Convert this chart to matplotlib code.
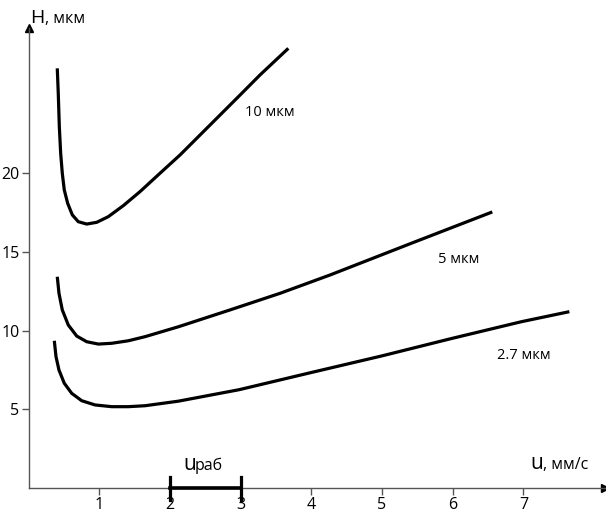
import matplotlib.pyplot as plt

plt.rcParams["font.family"] = ["Open Sans", "DejaVu Sans"]

# values
u_10 = [0.407, 0.421, 0.436, 0.455, 0.478, 0.506, 0.554, 0.620, 0.704, 0.823, 0.965, 1.129,
        1.341, 1.577, 1.860, 2.143, 2.426, 2.709, 2.992, 3.275, 3.675]
h_10 = [26.68, 25.09, 22.97, 21.28, 20.01, 18.95, 18.10, 17.36, 16.93, 16.78, 16.89, 17.25,
        17.95, 18.84, 20.01, 21.17, 22.44, 23.71, 24.98, 26.26, 27.95]

u_5 = [0.407, 0.431, 0.478, 0.563, 0.682, 0.823, 0.987, 1.177, 1.412, 1.648, 2.12, 2.85,
       3.56, 4.27, 5.41, 6.56]
h_5 = [13.43, 12.38, 11.32, 10.36, 9.66, 9.30, 9.15, 9.20, 9.36, 9.62, 10.25, 11.32,
       12.38, 13.55, 15.55, 17.55]

u_27 = [0.365, 0.389, 0.431, 0.506, 0.611, 0.752, 0.941, 1.177, 1.412, 1.648, 2.12, 2.98,
        3.96, 5.0, 5.98, 6.97, 7.65]
h_27 = [9.36, 8.35, 7.50, 6.66, 6.02, 5.55, 5.28, 5.17, 5.17, 5.23, 5.52, 6.25,
        7.3, 8.40, 9.5, 10.57, 11.21]

curves = [
    (u_10, h_10, "10 мкм", (3.06, 23.9)),
    (u_5, h_5, "5 мкм", (5.79, 14.5)),
    (u_27, h_27, "2.7 мкм", (6.63, 8.4)),
]

x_ticks = [1, 2, 3, 4, 5, 6, 7]
y_ticks = [5, 10, 15, 20]
u_work = [2, 3]

fig = plt.figure(figsize=(6.06, 5.20), dpi=100)
ax = fig.add_axes([28.5 / 606, 32 / 520, (605 - 28.5) / 606, (488 - 28) / 520])
ax.set_xlim(0, (605 - 28.5) / 70.7)
ax.set_ylim(0, (488 - 28) / 15.73)

for u, h, name, pos in curves:
    ax.plot(u, h, color="black", lw=2.3, solid_joinstyle="round", solid_capstyle="butt")
    ax.text(pos[0], pos[1], name, fontsize=10.5, va="center", ha="left")

# working range of u
ax.plot(u_work, [0, 0], color="black", lw=2.6, clip_on=False, zorder=5)
for x in u_work:
    ax.plot([x, x], [-0.75, 0.7], color="black", lw=2.3, clip_on=False, zorder=5)

axis_col = "#555555"
for side in ["top", "right"]:
    ax.spines[side].set_visible(False)
for side in ["left", "bottom"]:
    ax.spines[side].set_color(axis_col)
    ax.spines[side].set_linewidth(1.0)
ax.plot(1, 0, ">", color="black", ms=6, transform=ax.transAxes, clip_on=False)
ax.plot(0, 1, "^", color="black", ms=6, transform=ax.transAxes, clip_on=False)

ax.set_xticks(x_ticks)
ax.set_yticks(y_ticks)
ax.set_xticklabels([str(t) for t in x_ticks])
ax.set_yticklabels([str(t) for t in y_ticks])
ax.tick_params(direction="out", length=5, width=1, color=axis_col, labelsize=11.5, pad=1.5)

# axis titles
fig.text(30 / 606, (520 - 23) / 520, "H", fontsize=14)
fig.text(45 / 606, (520 - 23) / 520, ", мкм", fontsize=11.5)
fig.text(530 / 606, (520 - 469) / 520, "u", fontsize=15)
fig.text(543 / 606, (520 - 469) / 520, ", мм/с", fontsize=11.5)
fig.text(183 / 606, (520 - 470) / 520, "u", fontsize=15)
fig.text(195 / 606, (520 - 470) / 520, "раб", fontsize=11.5)

fig.savefig("out.png", dpi=100)
